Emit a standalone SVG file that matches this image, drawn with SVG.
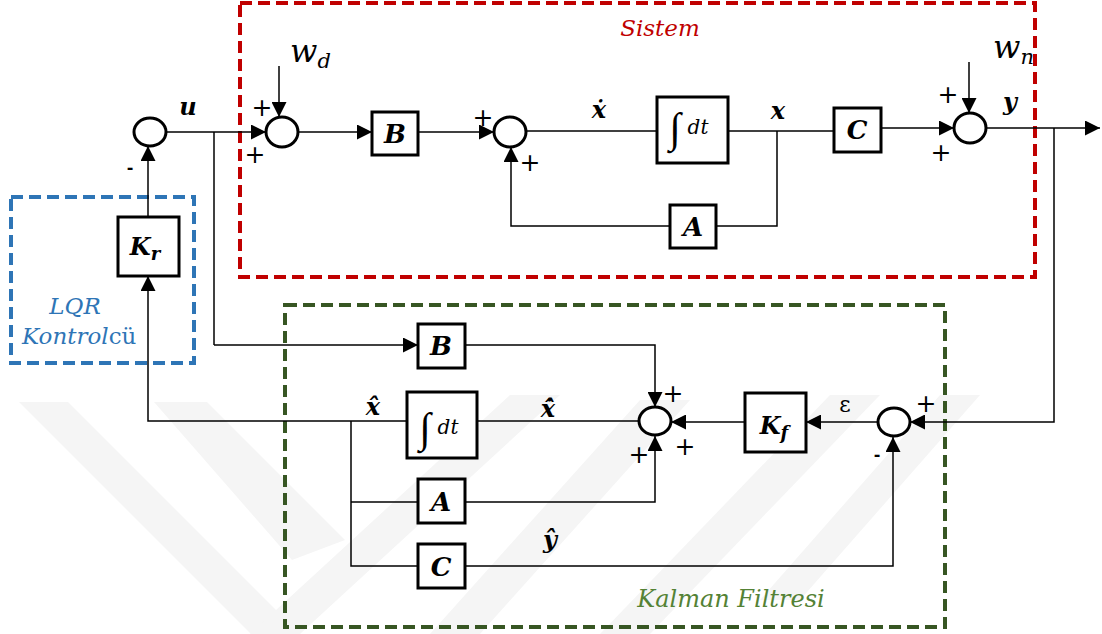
<svg xmlns="http://www.w3.org/2000/svg" width="1102" height="634" viewBox="0 0 1102 634">
<style>
.wm{fill:#f5f5f5;stroke:none}
.c{fill:none;stroke:#000;stroke-width:1.5}
.ca{fill:none;stroke:#000;stroke-width:1.5;marker-end:url(#ah)}
.box{fill:#fff;stroke:#000;stroke-width:3}
.sum{fill:#fff;stroke:#000;stroke-width:3}
.m{font-family:"DejaVu Serif",serif;font-style:italic;font-weight:bold;font-size:24px;fill:#000}
.bx{font-size:26px}
.mi{font-family:"DejaVu Serif",serif;font-style:italic;fill:#000}
.up{font-family:"DejaVu Serif",serif;font-style:normal;fill:#000}
.ig{font-family:"Liberation Serif",serif;font-style:normal;font-size:42px;fill:#000}
.pl{font-family:"DejaVu Sans",sans-serif;font-size:25px;fill:#000}
.mn{font-family:"DejaVu Sans",sans-serif;font-weight:bold;font-size:16px;fill:#000}
.grp{fill:none;stroke-width:4;stroke-dasharray:12 6}
.t{font-family:"DejaVu Serif",serif;font-style:italic;font-size:23px}
</style>
<defs>
<marker id="ah" viewBox="0 0 10 10" refX="10" refY="5" markerWidth="15" markerHeight="15" markerUnits="userSpaceOnUse" orient="auto"><path d="M0,0 L10,5 L0,10 z" fill="#000"/></marker>
</defs>
<rect width="1102" height="634" fill="#fff"/>
<g id="watermark">
<polygon class="wm" points="19,402 68,402 300,634 251,634"/>
<polygon class="wm" points="154,402 207,402 345,540 292,560"/>
<polygon class="wm" points="250,634 300,634 560,395 510,395"/>
<polygon class="wm" points="430,634 480,634 690,400 640,400"/>
<polygon class="wm" points="600,634 650,634 880,395 830,395"/>
<polygon class="wm" points="760,600 800,600 980,395 940,395"/>
</g>
<g id="groups">
<rect class="grp" x="240" y="3" width="795" height="274" stroke="#C00000"/>
<text class="t" x="660" y="36" text-anchor="middle" fill="#C00000">Sistem</text>
<rect class="grp" x="11" y="197" width="183" height="166" stroke="#2E75B6"/>
<text class="t" x="75" y="314" text-anchor="middle" fill="#2E75B6">LQR</text>
<text class="t" x="22" y="344" fill="#2E75B6">Kontrol<tspan style="font-style:normal">cü</tspan></text>
<rect class="grp" x="285" y="305" width="660" height="322" stroke="#375623"/>
<text class="t" x="731" y="607" text-anchor="middle" fill="#548235" style="font-size:24px">Kalman Filtresi</text>
</g>
<g id="connectors">
<path class="ca" d="M166,132 H266"/>
<path class="c" d="M214,132 V345"/>
<path class="ca" d="M214,345 H418"/>
<path class="ca" d="M279,66 V117"/>
<path class="ca" d="M297,132 H372"/>
<path class="ca" d="M418,132 H494"/>
<path class="c" d="M526,131 H657"/>
<path class="c" d="M728,131 H834"/>
<path class="c" d="M777,131 V226 H716"/>
<path class="ca" d="M670,226 H511 V147"/>
<path class="ca" d="M881,128 H954"/>
<path class="ca" d="M969,62 V113"/>
<path class="ca" d="M986,128 H1100"/>
<path class="ca" d="M1054,128 V422 H910"/>
<path class="ca" d="M878,422 H806"/>
<path class="ca" d="M745,422 H671"/>
<path class="ca" d="M465,345 H655 V407"/>
<path class="c" d="M639,421 H477"/>
<path class="ca" d="M407,421 H148 V276"/>
<path class="ca" d="M148,217 V146"/>
<path class="c" d="M351,421 V566 H418"/>
<path class="c" d="M351,502 H418"/>
<path class="ca" d="M465,502 H655 V436"/>
<path class="ca" d="M465,566 H893 V437"/>
</g>
<g id="sum1"><ellipse class="sum" cx="150" cy="132" rx="16" ry="14"/><text class="mn" x="130" y="173" text-anchor="middle">-</text></g>
<g id="sum2"><ellipse class="sum" cx="282" cy="132" rx="16" ry="15"/><text class="pl" x="262" y="116" text-anchor="middle">+</text><text class="pl" x="255" y="163" text-anchor="middle">+</text></g>
<g id="sum3"><ellipse class="sum" cx="510" cy="132" rx="16" ry="15"/><text class="pl" x="483" y="126" text-anchor="middle">+</text><text class="pl" x="530" y="171" text-anchor="middle">+</text></g>
<g id="sum4"><ellipse class="sum" cx="970" cy="128" rx="16" ry="15"/><text class="pl" x="948" y="103" text-anchor="middle">+</text><text class="pl" x="941" y="161" text-anchor="middle">+</text></g>
<g id="sum5"><ellipse class="sum" cx="894" cy="422" rx="16" ry="14"/><text class="pl" x="926" y="412" text-anchor="middle">+</text><text class="mn" x="877" y="460" text-anchor="middle">-</text></g>
<g id="sum6"><ellipse class="sum" cx="655" cy="421" rx="16" ry="14"/><text class="pl" x="673" y="402" text-anchor="middle">+</text><text class="pl" x="685" y="455" text-anchor="middle">+</text><text class="pl" x="639" y="463" text-anchor="middle">+</text></g>
<g id="B"><rect class="box" x="372" y="112" width="46" height="43"/><text class="m bx" x="395" y="143" text-anchor="middle">B</text></g>
<g id="Integ"><rect class="box" x="657" y="97" width="71" height="66"/><text class="ig" x="675" y="142" text-anchor="middle">∫</text><text class="mi" x="698" y="134" font-size="20" text-anchor="middle">dt</text></g>
<g id="A"><rect class="box" x="670" y="205" width="46" height="43"/><text class="m bx" x="693" y="236" text-anchor="middle">A</text></g>
<g id="C"><rect class="box" x="834" y="108" width="47" height="44"/><text class="m bx" x="857" y="139" text-anchor="middle">C</text></g>
<g id="Kr"><rect class="box" x="118" y="217" width="61" height="59"/><text class="m" x="145" y="255" text-anchor="middle">K<tspan style="font-size:18px" dy="5">r</tspan></text></g>
<g id="B2"><rect class="box" x="418" y="324" width="47" height="44"/><text class="m bx" x="441" y="355" text-anchor="middle">B</text></g>
<g id="Integ2"><rect class="box" x="407" y="392" width="70" height="66"/><text class="ig" x="425" y="442" text-anchor="middle">∫</text><text class="mi" x="448" y="434" font-size="20" text-anchor="middle">dt</text></g>
<g id="A2"><rect class="box" x="418" y="479" width="47" height="44"/><text class="m bx" x="441" y="511" text-anchor="middle">A</text></g>
<g id="C2"><rect class="box" x="418" y="544" width="47" height="44"/><text class="m bx" x="441" y="576" text-anchor="middle">C</text></g>
<g id="Kf"><rect class="box" x="745" y="393" width="61" height="59"/><text class="m" x="774" y="434" text-anchor="middle">K<tspan style="font-size:18px" dy="5">f</tspan></text></g>
<g id="labels">
<text class="m" x="188" y="115" text-anchor="middle">u</text>
<text class="mi" x="290" y="62" font-size="32">w<tspan font-size="21" dy="6">d</tspan></text>
<text class="mi" x="993" y="58" font-size="32">w<tspan font-size="21" dy="6">n</tspan></text>
<text class="m" x="599" y="118" text-anchor="middle">ẋ</text>
<text class="m" x="778" y="119" text-anchor="middle">x</text>
<text class="m" x="1010" y="110" text-anchor="middle">y</text>
<text class="m" x="373" y="415" text-anchor="middle">x̂</text>
<text class="m" x="548" y="417" text-anchor="middle">ẋ̂</text>
<text class="m" x="550" y="548" text-anchor="middle">ŷ</text>
<text class="up" x="845" y="412" font-size="22" text-anchor="middle">ε</text>
</g>
</svg>
